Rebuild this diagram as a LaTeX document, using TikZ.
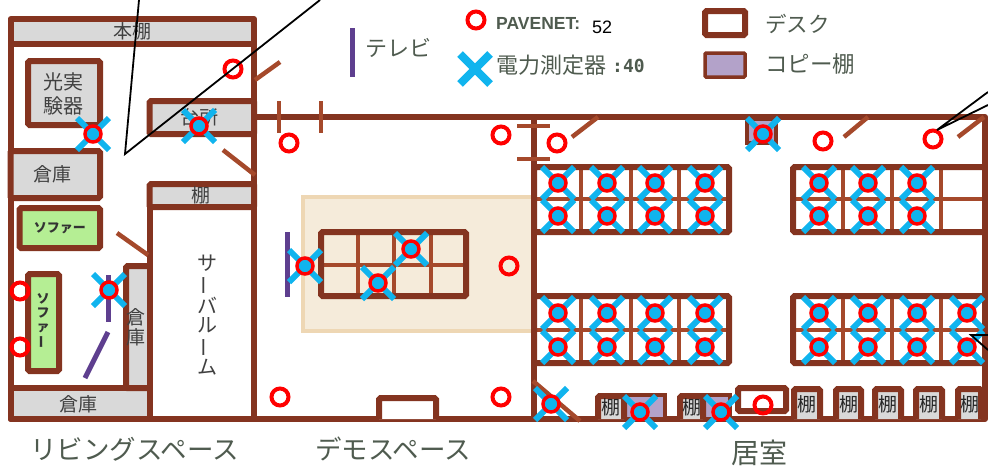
\documentclass[tikz,border=0pt]{standalone}
\usepackage{fontspec}
\usetikzlibrary{calc}
\setmainfont{Noto Sans CJK JP}
\newfontfamily\latinfont{Liberation Sans}
\newfontfamily\monofont{DejaVu Sans Mono}
\definecolor{wallbrown}{HTML}{843420}
\definecolor{doorbrown}{HTML}{A5492B}
\definecolor{shelfgray}{HTML}{D9D9D9}
\definecolor{sofagreen}{HTML}{B5EE94}
\definecolor{copypurple}{HTML}{B3A2C9}
\definecolor{tvpurple}{HTML}{5E3F8F}
\definecolor{meterblue}{HTML}{10B4EE}
\definecolor{demotan}{HTML}{F5EBDA}
\definecolor{demoedge}{HTML}{EED7B4}
\definecolor{labelgray}{HTML}{4F5B4F}
\tikzset{
  wall/.style={draw=wallbrown,line width=6pt,line join=round},
  desk/.style={draw=wallbrown,line width=6pt,rounded corners=1.5pt},
  door/.style={draw=doorbrown,line width=4.5pt},
  tv/.style={draw=tvpurple,line width=5pt},
  callout/.style={draw=black,line width=1.8pt},
  roomlabel/.style={inner sep=0pt,text=labelgray},
  itemlabel/.style={inner sep=0pt,text=black!75,font=\fontsize{19}{19}\selectfont,align=center},
  sofalabel/.style={inner sep=0pt,text=black!80,font=\bfseries\fontsize{13}{14}\selectfont,align=center},
  shelflabel/.style={inner sep=0pt,text=black!85,font=\fontsize{19}{19}\selectfont},
  pavenet/.style={draw=red,line width=4pt,fill=none,circle,minimum size=17pt,inner sep=0pt},
  cross/.style={draw=meterblue,line width=6pt}
}
\newcommand{\metermark}[1]{%
  \draw [cross] ($(#1)+(-16,-16)$) -- ($(#1)+(16,16)$);
  \draw [cross] ($(#1)+(-16,16)$) -- ($(#1)+(16,-16)$);
  \fill [meterblue] (#1) circle (6);
  \draw [red,line width=3.5pt] (#1) circle (8);
}
\begin{document}
\begin{tikzpicture}[x=1pt,y=-1pt]
    \useasboundingbox (0,0) rectangle (988,466);
    % demo floor
    \fill [demotan] (303,197) rectangle (534,331);
    \draw [demoedge,line width=3.5pt] (534,197) -- (303,197) -- (303,331) -- (534,331);
    % left rooms
    \draw [wall,fill=shelfgray] (10.5,19) rectangle (254,44);
    \draw [wall] (10.5,44) -- (10.5,419) -- (985,419) -- (985,117) -- (254,117);
    \draw [wall] (254,44) -- (254,419);
    \draw [desk,fill=shelfgray] (28,61) rectangle (100,125);
    \draw [desk,fill=shelfgray] (10.5,151) rectangle (100,198);
    \draw [desk,fill=shelfgray] (149.5,101) rectangle (254,134);
    \draw [desk,fill=shelfgray] (149.5,184) rectangle (254,207);
    \draw [wall] (149.5,207) -- (149.5,419);
    \draw [desk,fill=sofagreen] (19.5,208) rectangle (100,248);
    \draw [desk,fill=sofagreen] (28,274) rectangle (59,371);
    \draw [wall,fill=shelfgray] (10.5,388) rectangle (149.5,419);
    \draw [desk,fill=shelfgray] (149.5,266) -- (126,266) -- (126,388) -- (149.5,388);
    \draw [wall] (149.5,255) -- (149.5,419);
    \node [itemlabel] (bookshelf) at (132,31) {本棚};
    \node [itemlabel,font=\fontsize{20}{24}\selectfont] (lab) at (63,94) {光実\\験器};
    \node [itemlabel] (store1) at (53,174) {倉庫};
    \node [itemlabel] (kitchen) at (199,117) {台所};
    \node [itemlabel] (shelf1) at (201,195) {棚};
    \node [sofalabel] (sofa1) at (60,228) {ソファー};
    \node [sofalabel] (sofa2) at (43,321) {ソ\\フ\\ァ\\\rotatebox[origin=c]{90}{ー}};
    \node [itemlabel,font=\fontsize{19}{20}\selectfont] (store2) at (136,327) {倉\\庫};
    \node [itemlabel] (store3) at (78,404) {倉庫};
    \node [itemlabel,font=\fontsize{20}{19.5}\selectfont] (server) at (207,315) {サ\\\rotatebox[origin=c]{90}{ー}\\バ\\ル\\\rotatebox[origin=c]{90}{ー}\\ム};
    % doors and gaps
    \draw [door] (255,80) -- (280,62);
    \draw [door] (223,150) -- (255,175);
    \draw [door] (117,233) -- (148,255);
    \draw [door] (279,101) -- (279,133);
    \draw [door] (321,101) -- (321,133);
    \draw [wall] (534,117) -- (534,419);
    \draw [door] (517,126) -- (550,126);
    \draw [door] (517,159) -- (550,159);
    \draw [door] (572,137) -- (598,117);
    \draw [door] (958,137) -- (984,117);
    \draw [door] (844,137) -- (868,117);
    \draw [door] (533,381) -- (580,421);
    % demo table
    \draw [door] (358,232) -- (358,296);
    \draw [door] (394,232) -- (394,296);
    \draw [door] (431,232) -- (431,296);
    \draw [door] (321,265) -- (466,265);
    \draw [desk] (321,232) rectangle (466,296);
    \draw [desk,fill=white] (379,419) -- (379,398) -- (436,398) -- (436,419);
    % office desks
    \foreach \ytop/\ybot/\ymid in {167/232/199,296/363/330} {
      \foreach \xdiv in {581,631,679}
        \draw [door] (\xdiv,\ytop) -- (\xdiv,\ybot);
      \foreach \xdiv in {843,892,941}
        \draw [door] (\xdiv,\ytop) -- (\xdiv,\ybot);
      \draw [door] (534,\ymid) -- (729,\ymid);
      \draw [door] (793,\ymid) -- (985,\ymid);
      \draw [desk] (534,\ytop) rectangle (729,\ybot);
      \draw [desk] (793,\ytop) rectangle (985,\ybot);
    }
    % bottom row
    \draw [draw=wallbrown,line width=4pt,fill=copypurple] (747,119) rectangle (776,143);
    \draw [draw=wallbrown,line width=4pt,fill=copypurple] (625,395) rectangle (665,419);
    \draw [draw=wallbrown,line width=4pt,fill=copypurple] (703,395) rectangle (730,419);
    \draw [desk,fill=white] (738,388) rectangle (786,411);
    \foreach \xa/\xb in {598/624,680/703,794/820,836/861,875/901,916/942,958/981} {
      \draw [desk,fill=shelfgray] (\xa,419) -- (\xa,\ifnum\xa<700 396\else 389\fi) -- (\xb,\ifnum\xa<700 396\else 389\fi) -- (\xb,419);
      \node [shelflabel] (shelf\xa) at ({(\xa+\xb)/2},\ifnum\xa<700 407\else 404\fi) {棚};
    }
    % tv
    \draw [tv] (287,232) -- (287,297);
    \draw [tv] (108,275) -- (108,322);
    \draw [tv] (108,332) -- (85,378);
    \draw [tv] (352,28) -- (352,77);
    % markers
    \foreach \xm in {558,607,655,705,819,868,917}
      \foreach \ym in {183,216,313,347}
        \metermark{\xm,\ym};
    \metermark{967,313}
    \metermark{967,347}
    \metermark{93,134}
    \metermark{199,126}
    \metermark{109,290}
    \metermark{305,266}
    \metermark{411,249}
    \metermark{378,283}
    \metermark{763,134}
    \metermark{551,404}
    \metermark{640,412}
    \metermark{721,412}
    \foreach \xp/\yp in {233/69,289/143,20/291,20/347,280/397,501/135,557/143,823/141,933/139,509/266,501/397,763/405,476/20}
      \node [pavenet] (pave\xp) at (\xp,\yp) {};
    % callouts
    \coordinate (tipa) at (125,154);
    \coordinate (tipb) at (937,130);
    \coordinate (tipc) at (971,335);
    \draw [callout] (139,0) -- (tipa) -- (320,0);
    \draw [callout] (988,92) -- (tipb) -- (988,105);
    \draw [callout] (988,335) -- (tipc) -- (988,350);
    % legend
    \draw [cross,line width=8pt] (460,54) -- (490,84);
    \draw [cross,line width=8pt] (460,84) -- (490,54);
    \node [roomlabel,anchor=west,font=\fontsize{22}{22}\selectfont] (tvtext) at (365,48) {テレビ};
    \node [roomlabel,anchor=west,font=\latinfont\bfseries\fontsize{17.5}{17.5}\selectfont] (pavetext) at (496,23) {PAVENET:};
    \node [inner sep=0pt,anchor=west,font=\latinfont\fontsize{18}{18}\selectfont] (pavecount) at (592,27) {52};
    \node [roomlabel,anchor=west,font=\fontsize{22}{22}\selectfont] (metertext) at (496,65) {電力測定器};
    \node [roomlabel,anchor=west,font=\monofont\bfseries\fontsize{18}{18}\selectfont] (metercount) at (612,66) {:40};
    \draw [desk,line width=6pt,fill=white] (705,11) rectangle (745,35);
    \draw [draw=wallbrown,line width=3.5pt,rounded corners=1pt,fill=copypurple] (705,53) rectangle (745,77);
    \node [roomlabel,anchor=west,font=\fontsize{21.5}{21.5}\selectfont] (desktext) at (765,24) {デスク};
    \node [roomlabel,anchor=west,font=\fontsize{22.5}{22.5}\selectfont] (copytext) at (765,64) {コピー棚};
    % room names
    \node [roomlabel,anchor=west,font=\fontsize{26.5}{26.5}\selectfont] (living) at (30,449) {リビングスペース};
    \node [roomlabel,anchor=west,font=\fontsize{26.5}{26.5}\selectfont] (demo) at (315,449) {デモスペース};
    \node [roomlabel,anchor=west,font=\fontsize{28}{28}\selectfont] (office) at (731,453) {居室};
\end{tikzpicture}
\end{document}
